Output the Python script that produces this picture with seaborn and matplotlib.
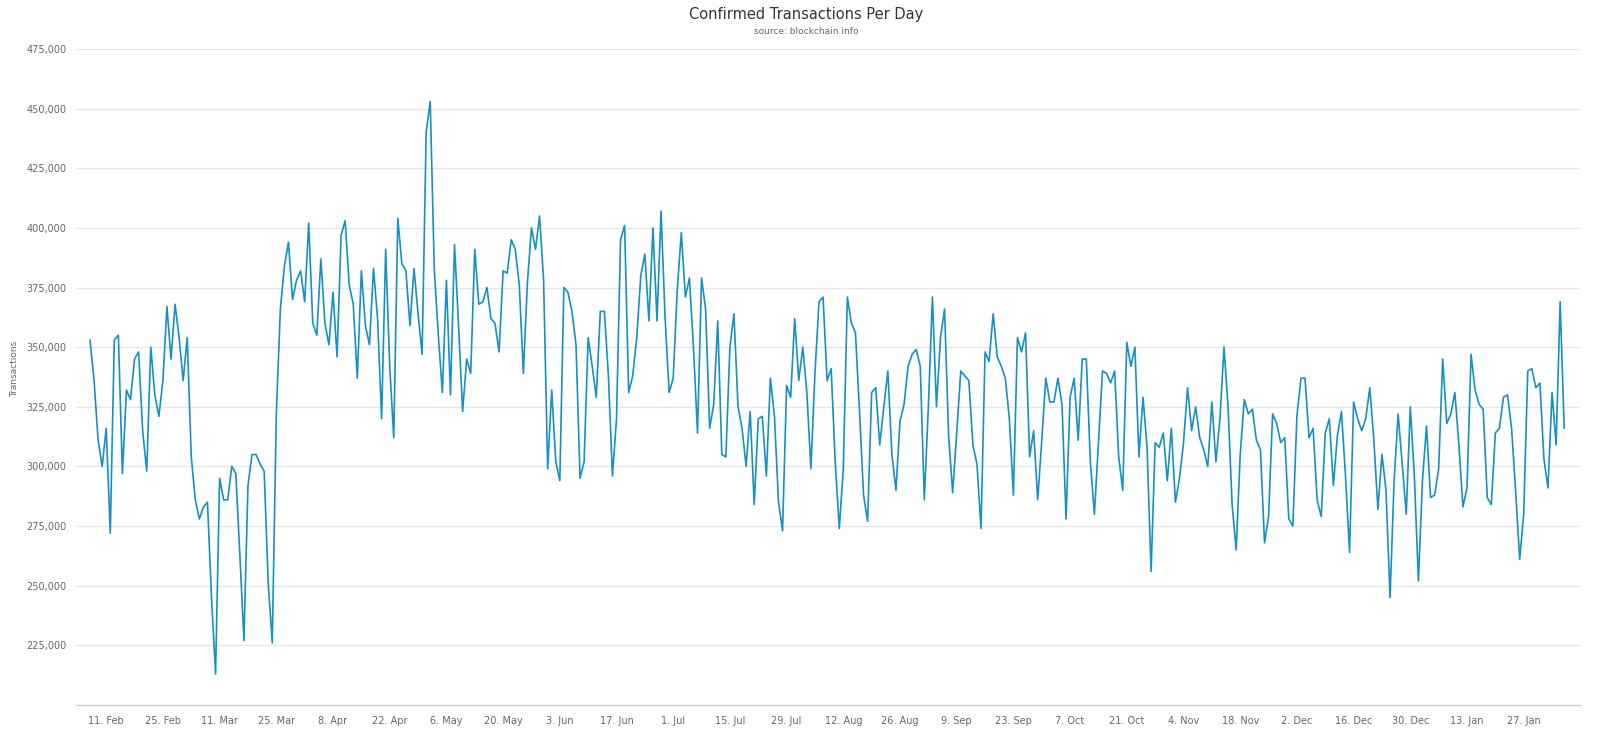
import pandas as pd
import seaborn as sns
import matplotlib.pyplot as plt

# Confirmed transactions per day (thousands), 7 Feb 2019 .. 6 Feb 2020
start_date = "2019-02-07"
tx_thousands = [
    # Feb
    353, 336, 311, 300, 316, 272, 353, 355, 297, 332, 328, 345, 348, 315, 298,
    350, 330, 321, 336, 367, 345, 368,
    # Mar
    354, 336, 354, 304, 286, 278, 283, 285, 245, 213, 295, 286, 286, 300, 297,
    263, 227, 292, 305, 305, 301, 298, 251, 226, 322, 366, 384, 394, 370, 378,
    382,
    # Apr
    369, 402, 360, 355, 387, 360, 351, 373, 346, 397, 403, 376, 368, 337, 382,
    359, 351, 383, 362, 320, 391, 342, 312, 404, 385, 382, 359, 383, 364, 347,
    # May
    440, 453, 383, 355, 331, 378, 330, 393, 359, 323, 345, 339, 391, 368, 369,
    375, 362, 360, 348, 382, 381, 395, 391, 376, 339, 377, 400, 391, 405, 378,
    299,
    # Jun
    332, 302, 294, 375, 373, 365, 351, 295, 302, 354, 342, 329, 365, 365, 338,
    296, 320, 395, 401, 331, 338, 354, 380, 389, 361, 400, 361, 407, 362, 331,
    # Jul
    337, 374, 398, 371, 379, 350, 314, 379, 366, 316, 326, 361, 305, 304, 350,
    364, 325, 316, 300, 323, 284, 320, 321, 296, 337, 321, 285, 273, 334, 329,
    362,
    # Aug
    336, 350, 331, 299, 339, 369, 371, 336, 341, 302, 274, 299, 371, 360, 356,
    323, 288, 277, 331, 333, 309, 325, 340, 305, 290, 319, 326, 342, 347, 349,
    342,
    # Sep
    286, 325, 371, 325, 354, 366, 313, 289, 314, 340, 338, 336, 309, 301, 274,
    348, 344, 364, 346, 342, 337, 320, 288, 354, 348, 356, 304, 315, 286, 311,
    # Oct
    337, 327, 327, 337, 326, 278, 329, 337, 311, 345, 345, 302, 280, 310, 340,
    339, 335, 340, 304, 290, 352, 342, 350, 304, 329, 308, 256, 310, 308, 314,
    294,
    # Nov
    316, 285, 295, 310, 333, 315, 325, 312, 307, 300, 327, 302, 320, 350, 325,
    284, 265, 305, 328, 322, 324, 311, 307, 268, 279, 322, 318, 310, 312, 278,
    # Dec
    275, 321, 337, 337, 312, 316, 286, 279, 314, 320, 292, 313, 323, 296, 264,
    327, 320, 315, 320, 333, 311, 282, 305, 290, 245, 294, 322, 301, 280, 325,
    296,
    # Jan
    252, 294, 317, 287, 288, 299, 345, 318, 322, 331, 309, 283, 291, 347, 332,
    326, 324, 287, 284, 314, 316, 329, 330, 316, 290, 261, 280, 340, 341, 333,
    335,
    # Feb
    303, 291, 331, 309, 369, 316,
]

tick_labels_dates = pd.date_range("2019-02-11", "2020-01-27", freq="14D")

df = pd.DataFrame({
    "date": pd.date_range(start_date, periods=len(tx_thousands), freq="D"),
    "transactions": [v * 1000 for v in tx_thousands],
})

sns.set_style("white")
plt.rcParams["font.family"] = ["DejaVu Sans"]

fig = plt.figure(figsize=(16, 7.38), dpi=100)
ax = fig.add_axes([0.0475, 0.0447, 0.94, 0.889])

sns.lineplot(data=df, x="date", y="transactions", color="#1591c4",
             linewidth=1.2, ax=ax)

ax.set_xlim(df["date"].iloc[0] - pd.Timedelta(days=3.46),
            df["date"].iloc[-1] + pd.Timedelta(days=3.9))
ax.set_ylim(200000, 475000)

yticks = list(range(225000, 475001, 25000))
ax.set_yticks(yticks)
ax.set_yticklabels([f"{v:,}" for v in yticks])
ax.set_xticks(tick_labels_dates)
ax.set_xticklabels([f"{d.day}. {d:%b}" for d in tick_labels_dates])

ax.yaxis.grid(True, color="#e6e6e6", linewidth=1)
ax.xaxis.grid(False)
for side in ["top", "right", "left"]:
    ax.spines[side].set_visible(False)
ax.spines["bottom"].set_color("#c8cfdc")
ax.spines["bottom"].set_linewidth(1)

ax.tick_params(axis="y", length=0, pad=7, labelsize=7, labelcolor="#666666")
ax.tick_params(axis="x", length=7, width=1, color="#c8cfdc", pad=1,
               labelsize=7, labelcolor="#666666")

ax.set_xlabel("")
ax.set_ylabel("")
fig.text(0.0094, 0.5, "Transactions", rotation=90, ha="center", va="center",
         fontsize=6.5, color="#666666")
fig.text(0.504, 0.98, "Confirmed Transactions Per Day", ha="center",
         va="center", fontsize=10.5, color="#333333")
fig.text(0.504, 0.957, "source: blockchain.info", ha="center", va="center",
         fontsize=6.5, color="#666666")

fig.savefig("out.png", dpi=100)
